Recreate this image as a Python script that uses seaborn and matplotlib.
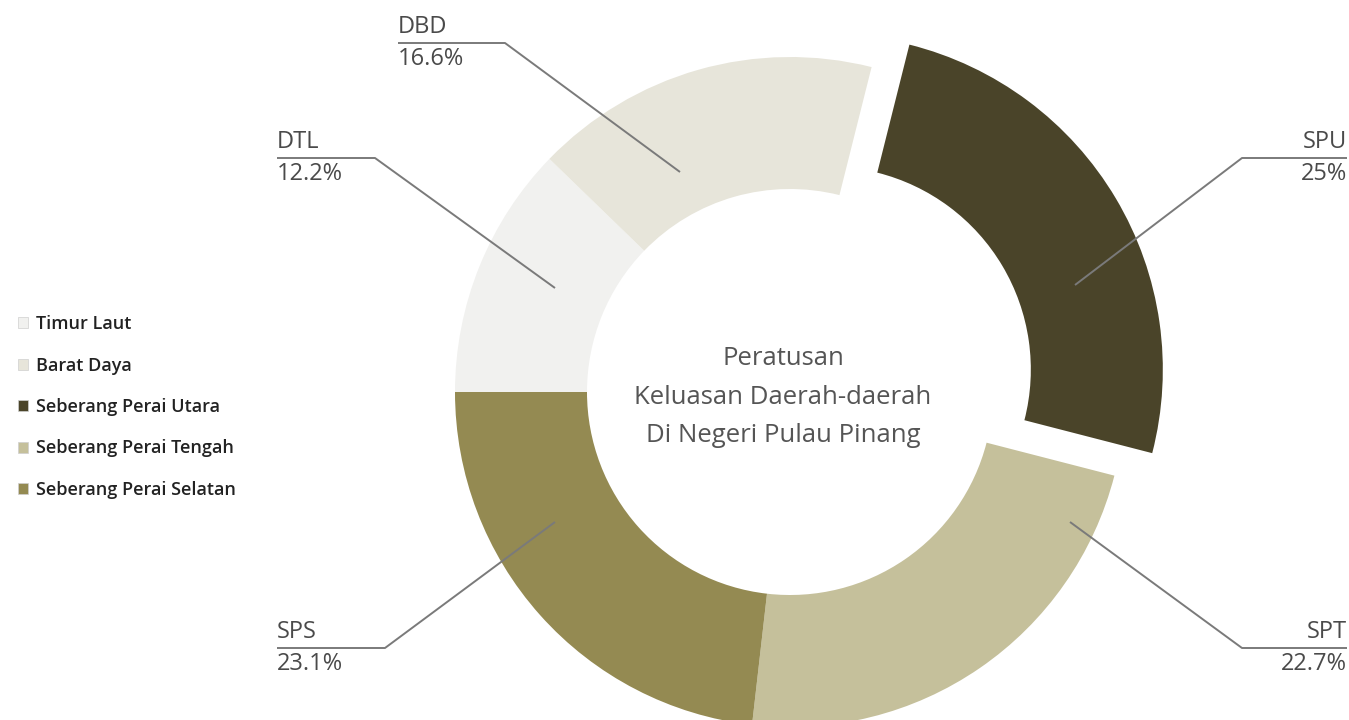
import matplotlib
matplotlib.use('Agg')
import matplotlib.pyplot as plt
import seaborn as sns

# Data
districts = ['Timur Laut', 'Barat Daya', 'Seberang Perai Utara',
             'Seberang Perai Tengah', 'Seberang Perai Selatan']
codes = ['DTL', 'DBD', 'SPU', 'SPT', 'SPS']
shares = [12.2, 16.6, 25, 22.7, 23.1]
share_labels = ['12.2%', '16.6%', '25%', '22.7%', '23.1%']
colors = ['#f1f1ef', '#e7e5da', '#4a4429', '#c5c09b', '#948a52']
explode = [0, 0, 44, 0, 0]  # pie explode is in data units here (pixels)
center_title = 'Peratusan\nKeluasan Daerah-daerah\nDi Negeri Pulau Pinang'

sns.set_theme(style='white')
plt.rcParams['font.family'] = ['Open Sans', 'DejaVu Sans']

W, H = 1349, 720
fig = plt.figure(figsize=(W / 100, H / 100), dpi=100)
ax = fig.add_axes([0, 0, 1, 1])

cx, cy, R = 790, H - 392, 335
wedges, _ = ax.pie(shares, colors=colors, explode=explode, startangle=180,
                   counterclock=False, radius=R, center=(cx, cy),
                   wedgeprops=dict(width=132, linewidth=0))
ax.set_xlim(0, W)
ax.set_ylim(0, H)
ax.set_aspect('equal')
ax.axis('off')

ax.text(cx - 7, cy - 5, center_title, ha='center', va='center', fontsize=18.5,
        color='#555555', linespacing=1.72)

# leader lines: anchor on ring, elbow, end of horizontal line (pixel layout)
leaders = {
    'DTL': ((555, 288), (375, 158), (277, 158), 'left'),
    'DBD': ((680, 172), (505, 43), (398, 43), 'left'),
    'SPU': ((1075, 285), (1242, 158), (1347, 158), 'right'),
    'SPT': ((1070, 522), (1242, 648), (1347, 648), 'right'),
    'SPS': ((555, 522), (385, 648), (277, 648), 'left'),
}
for code, pct in zip(codes, share_labels):
    a, e, t, side = leaders[code]
    xs = [a[0], e[0], t[0]]
    ys = [H - a[1], H - e[1], H - t[1]]
    ax.plot(xs, ys, color='#7a7a7a', lw=1.4, solid_capstyle='butt')
    ax.text(t[0], H - t[1] + 4, code, ha=side, va='bottom', fontsize=17,
            color='#4a4a4a')
    ax.text(t[0], H - t[1] - 4, pct, ha=side, va='top', fontsize=17,
            color='#4a4a4a')

leg = ax.legend(wedges, districts, loc='center left',
                bbox_to_anchor=(0.001, 1 - 407 / H), frameon=False,
                handlelength=0.55, handleheight=0.55, handletextpad=0.45,
                labelspacing=1.3, prop={'size': 13, 'weight': 'semibold'})
for txt in leg.get_texts():
    txt.set_color('#222222')
for h in leg.legend_handles:
    h.set_edgecolor('#cfcfcf')
    h.set_linewidth(0.5)

fig.savefig('out.png', dpi=100, facecolor='white')
